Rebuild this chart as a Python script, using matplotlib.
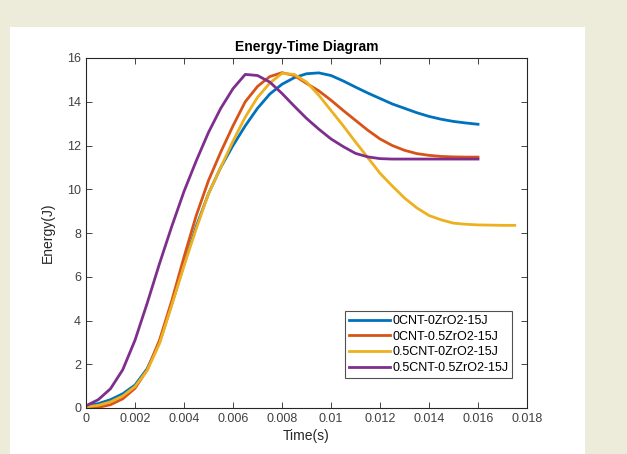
import matplotlib
matplotlib.use("Agg")
import matplotlib.pyplot as plt
from matplotlib.patches import Rectangle

plt.rcParams['font.family'] = ['Liberation Sans', 'DejaVu Sans']

# -------- Data --------
t = [0, 0.0005, 0.001, 0.0015, 0.002, 0.0025, 0.003, 0.0035, 0.004, 0.0045,
     0.005, 0.0055, 0.006, 0.0065, 0.007, 0.0075, 0.008, 0.0085, 0.009, 0.0095,
     0.01, 0.0105, 0.011, 0.0115, 0.012, 0.0125, 0.013, 0.0135, 0.014, 0.0145,
     0.015, 0.0155, 0.016]
t_long = t + [0.0165, 0.017, 0.0175]

e_0cnt_0zr = [0.1, 0.2, 0.38, 0.65, 1.05, 1.8, 3.0, 4.75, 6.55, 8.3,
              9.8, 11.0, 12.0, 12.9, 13.7, 14.35, 14.8, 15.1, 15.28, 15.32,
              15.2, 14.95, 14.67, 14.4, 14.15, 13.9, 13.7, 13.5, 13.33, 13.2,
              13.1, 13.03, 12.97]
e_0cnt_05zr = [0.0, 0.03, 0.15, 0.42, 0.9, 1.75, 3.1, 4.9, 6.9, 8.8,
               10.4, 11.7, 12.9, 14.0, 14.7, 15.15, 15.33, 15.2, 14.84, 14.5,
               14.07, 13.6, 13.15, 12.7, 12.3, 12.0, 11.78, 11.63, 11.55, 11.5,
               11.48, 11.47, 11.47]
e_05cnt_0zr = [0.05, 0.12, 0.28, 0.55, 0.98, 1.72, 2.95, 4.7, 6.5, 8.2,
               9.8, 11.0, 12.2, 13.3, 14.2, 14.85, 15.3, 15.25, 14.9, 14.3,
               13.6, 12.9, 12.16, 11.45, 10.73, 10.15, 9.6, 9.15, 8.8, 8.6,
               8.45, 8.4, 8.37, 8.36, 8.35, 8.35]
e_05cnt_05zr = [0.1, 0.38, 0.88, 1.75, 3.1, 4.8, 6.6, 8.3, 9.9, 11.3,
                12.6, 13.7, 14.6, 15.25, 15.2, 14.9, 14.38, 13.8, 13.24, 12.75,
                12.3, 11.95, 11.64, 11.48, 11.4, 11.38, 11.38, 11.38, 11.38, 11.38,
                11.38, 11.38, 11.38]

labels = ['0CNT-0ZrO2-15J', '0CNT-0.5ZrO2-15J', '0.5CNT-0ZrO2-15J', '0.5CNT-0.5ZrO2-15J']
colors = ['#0072BD', '#D95319', '#EDB120', '#7E2F8E']

x_ticks = [0, 0.002, 0.004, 0.006, 0.008, 0.01, 0.012, 0.014, 0.016, 0.018]
x_tick_labels = ['0', '0.002', '0.004', '0.006', '0.008', '0.01', '0.012', '0.014', '0.016', '0.018']
y_ticks = [0, 2, 4, 6, 8, 10, 12, 14, 16]

# -------- Figure --------
fig = plt.figure(figsize=(6.27, 4.54), dpi=100)
fig.patch.set_facecolor('#EDEBD9')
fig.add_artist(Rectangle((10 / 627, 0), 575 / 627, 427 / 454,
                         transform=fig.transFigure, facecolor='white',
                         edgecolor='none', zorder=0))

ax = fig.add_axes([86 / 627, 46 / 454, 441 / 627, 350 / 454])
ax.set_facecolor('white')

series = [(t, e_0cnt_0zr), (t, e_0cnt_05zr), (t_long, e_05cnt_0zr), (t, e_05cnt_05zr)]
for (tx, ey), lab, col in zip(series, labels, colors):
    ax.plot(tx, ey, color=col, lw=2, label=lab)

ax.set_xlim(0, 0.018)
ax.set_ylim(0, 16)
ax.set_xticks(x_ticks)
ax.set_xticklabels(x_tick_labels)
ax.set_yticks(y_ticks)

dark = '#262626'
for sp in ax.spines.values():
    sp.set_color(dark)
    sp.set_linewidth(0.8)
ax.tick_params(direction='in', top=True, right=True, length=4, width=0.6,
               colors=dark, labelsize=9)
for lbl in ax.get_xticklabels() + ax.get_yticklabels():
    lbl.set_color('#404040')

ax.set_title('Energy-Time Diagram', fontsize=10, fontweight='bold', color='black', pad=5)
ax.set_xlabel('Time(s)', fontsize=10, color=dark, labelpad=3)
ax.set_ylabel('Energy(J)', fontsize=10, color=dark, labelpad=9)

leg = ax.legend(loc='lower right', bbox_to_anchor=(0.966, 0.086), fontsize=9,
                frameon=True, fancybox=False, handlelength=3.3, handletextpad=0.15,
                borderpad=0.3, labelspacing=0.3, borderaxespad=0)
leg.get_frame().set_edgecolor(dark)
leg.get_frame().set_linewidth(0.8)

fig.savefig('out.png', dpi=100, facecolor=fig.get_facecolor())
